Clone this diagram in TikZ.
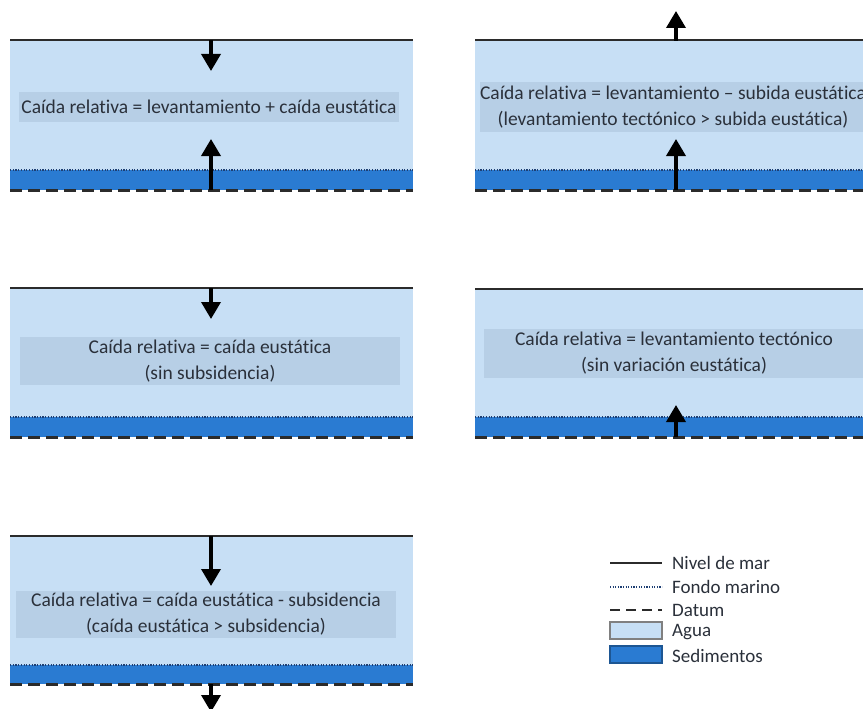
\documentclass[tikz,border=0pt]{standalone}
\usepackage{fontspec}
\setmainfont{Carlito}[Ligatures={NoCommon}]
\usetikzlibrary{arrows.meta}

\definecolor{agua}{HTML}{C7DFF5}
\definecolor{banda}{HTML}{B7CFE6}
\definecolor{sedimento}{HTML}{2A7BD2}
\definecolor{linea}{HTML}{2B2B2B}
\definecolor{fondo}{HTML}{1E3F73}
\definecolor{texto}{HTML}{2A303A}

\tikzset{
  nivel/.style={draw=linea, line width=2.8pt},
  fondomar/.style={draw=fondo, line width=2.4pt, dash pattern=on 1.2pt off 1.5pt},
  datumline/.style={draw=linea, line width=3pt, dash pattern=on 12pt off 6pt},
  flecha/.style={draw=black, line width=3.6pt, -{Triangle[width=19pt,length=17pt]}},
  rotulo/.style={font=\fontsize{19.5}{26}\selectfont, text=texto, align=center,
    inner sep=0pt, fill=banda, minimum width=380pt},
  leyenda/.style={font=\fontsize{19}{22}\selectfont, text=texto, anchor=west, inner sep=0pt},
}

% one water column: #1,#2 = left/right x, #3 = sea level, #4 = sea floor, #5 = datum
\newcommand\perfil[5]{%
  \fill[agua] (#1,#3) rectangle (#2,#4);
  \fill[sedimento] (#1,#4) rectangle (#2,#5);
  \draw[fondomar] (#1,#4) -- (#2,#4);
  \draw[datumline] (#1,#5) -- (#2,#5);
  \draw[nivel] (#1,#3) -- (#2,#3);
}

\begin{document}
\begin{tikzpicture}[x=1pt, y=-1pt]
  \useasboundingbox (0,0) rectangle (863,709);
  \clip (0,0) rectangle (863,709);

  % columns
  \perfil{10}{413}{40}{170}{190}
  \perfil{475}{870}{40}{170}{190}
  \perfil{10}{413}{288}{417}{437}
  \perfil{475}{870}{289}{417}{437}
  \perfil{10}{413}{536}{665}{684}

  % labels
  \node[rotulo, minimum height=30pt] (t1) at (209,107)
    {Caída relativa = levantamiento + caída eustática};
  \node[rotulo, minimum height=50pt] (t2) at (673,107)
    {Caída relativa = levantamiento – subida eustática\\(levantamiento tectónico > subida eustática)};
  \node[rotulo, minimum height=48pt] (t3) at (210,361)
    {Caída relativa = caída eustática\\(sin subsidencia)};
  \node[rotulo, minimum height=49pt] (t4) at (674,353)
    {Caída relativa = levantamiento tectónico\\(sin variación eustática)};
  \node[rotulo, minimum height=47pt] (t5) at (206,614)
    {Caída relativa = caída eustática - subsidencia\\(caída eustática > subsidencia)};

  % arrow anchors
  \coordinate (a1s) at (211,40);  \coordinate (a1e) at (211,71);
  \coordinate (b1s) at (211,190); \coordinate (b1e) at (211,139);
  \coordinate (a2s) at (676,41);  \coordinate (a2e) at (676,11);
  \coordinate (b2s) at (676,190); \coordinate (b2e) at (676,139);
  \coordinate (a3s) at (211,288); \coordinate (a3e) at (211,319);
  \coordinate (b4s) at (676,437); \coordinate (b4e) at (676,405);
  \coordinate (a5s) at (211,536); \coordinate (a5e) at (211,586);
  \coordinate (b5s) at (211,684); \coordinate (b5e) at (211,712);

  \draw[flecha] (a1s) -- (a1e);
  \draw[flecha] (b1s) -- (b1e);
  \draw[flecha] (a2s) -- (a2e);
  \draw[flecha] (b2s) -- (b2e);
  \draw[flecha] (a3s) -- (a3e);
  \draw[flecha] (b4s) -- (b4e);
  \draw[flecha] (a5s) -- (a5e);
  \draw[flecha] (b5s) -- (b5e);

  % legend
  \draw[draw=linea, line width=2.2pt] (610,563) -- (662,563);
  \node[leyenda] (l1) at (672,563) {Nivel de mar};
  \draw[draw=fondo, line width=1.8pt, dash pattern=on 1.2pt off 1.4pt] (610,587) -- (662,587);
  \node[leyenda] (l2) at (672,587) {Fondo marino};
  \draw[draw=linea, line width=2.4pt, dash pattern=on 10pt off 6pt] (610,610) -- (662,610);
  \node[leyenda] (l3) at (672,610) {Datum};
  \filldraw[fill=agua, draw=gray, line width=1.2pt] (610,622) rectangle (662,639);
  \node[leyenda] (l4) at (672,632) {Agua};
  \filldraw[fill=sedimento, draw=sedimento!70!black, line width=1.2pt] (610,646) rectangle (662,663);
  \node[leyenda] (l5) at (672,656) {Sedimentos};
\end{tikzpicture}
\end{document}
